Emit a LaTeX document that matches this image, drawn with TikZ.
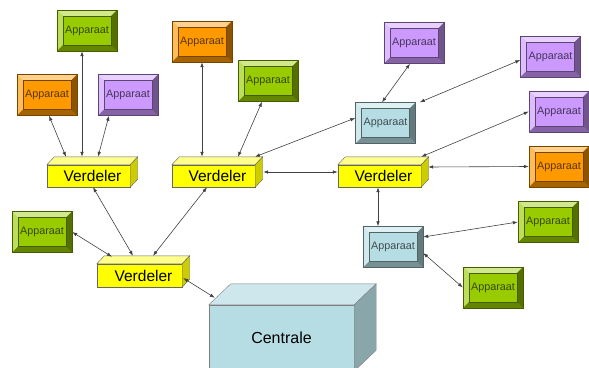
\documentclass[tikz,border=0pt]{standalone}
\usepackage{fontspec}
\setmainfont{Liberation Sans}
\usetikzlibrary{calc,arrows.meta}
\definecolor{grn}{RGB}{153,204,0}
\definecolor{org}{RGB}{255,153,0}
\definecolor{prp}{RGB}{204,153,255}
\definecolor{cyn}{RGB}{183,221,228}
\definecolor{ylw}{RGB}{255,255,0}
\tikzset{
	apparaat/.style={draw=#1!45!black,fill=#1,minimum width=60pt,minimum height=41pt,inner sep=0pt,
		text=#1!35!black,font=\fontsize{10.8}{12}\selectfont,
		path picture={
			\path(path picture bounding box.north west)coordinate(nw)(path picture bounding box.north east)coordinate(ne)
				(path picture bounding box.south west)coordinate(sw)(path picture bounding box.south east)coordinate(se);
			\fill[#1!45!white](nw)--(ne)--($(ne)+(-6pt,-6pt)$)--($(nw)+(6pt,-6pt)$)--cycle;
			\fill[#1!65!white](nw)--(sw)--($(sw)+(6pt,6pt)$)--($(nw)+(6pt,-6pt)$)--cycle;
			\fill[#1!65!black](sw)--(se)--($(se)+(-6pt,6pt)$)--($(sw)+(6pt,6pt)$)--cycle;
			\fill[#1!55!black](ne)--(se)--($(se)+(-6pt,6pt)$)--($(ne)+(-6pt,-6pt)$)--cycle;
			\draw[#1!45!black,line width=.7pt]($(nw)+(6pt,-6pt)$)rectangle($(se)+(-6pt,6pt)$);
		}},
	verdeler/.style={draw=black!60,fill=ylw,minimum width=83pt,minimum height=22pt,inner sep=0pt,
		font=\fontsize{15.5}{17}\selectfont,execute at begin node=\hspace*{8pt}},
	verbinding/.style={draw=black!75,line width=.6pt,{Latex[length=5pt,width=3.5pt]}-{Latex[length=5pt,width=3.5pt]}},
}
\begin{document}
\begin{tikzpicture}[x=1pt,y=-1pt]
	\useasboundingbox(0,0)rectangle(589,367);
	\clip(0,0)rectangle(589,367);
	% apparaten
	\node[apparaat=grn](a1)at(87,30.5){Apparaat};
	\node[apparaat=org](a2)at(47,95){Apparaat};
	\node[apparaat=prp](a3)at(128,95){Apparaat};
	\node[apparaat=org](a4)at(202,41.5){Apparaat};
	\node[apparaat=grn](a5)at(268,81){Apparaat};
	\node[apparaat=cyn](a6)at(385.5,123){Apparaat};
	\node[apparaat=prp](a7)at(414,43){Apparaat};
	\node[apparaat=prp](a8)at(550.5,56.5){Apparaat};
	\node[apparaat=prp](a9)at(559,111.5){Apparaat};
	\node[apparaat=org](a10)at(559,166.5){Apparaat};
	\node[apparaat=grn](a11)at(548,222){Apparaat};
	\node[apparaat=cyn](a12)at(393,247){Apparaat};
	\node[apparaat=grn](a13)at(493,287.5){Apparaat};
	\node[apparaat=grn](a14)at(42,232){Apparaat};
	% verdelers
	\node[verdeler](v1)at(88.5,176){Verdeler};
	\node[verdeler](v2)at(213.5,176){Verdeler};
	\node[verdeler](v3)at(379.5,176){Verdeler};
	\node[verdeler,minimum width=85pt,minimum height=23pt](v4)at(139.5,275.5){Verdeler};
	\foreach \v in {v1,v2,v3,v4}{
		\filldraw[draw=black!60,fill=ylw!45!white](\v.north west)--++(7.5pt,8pt)--($(\v.north east)+(7.5pt,8pt)$)--(\v.north east)--cycle;
		\filldraw[draw=black!60,fill=ylw!80!black](\v.north east)--++(7.5pt,8pt)--($(\v.south east)+(7.5pt,8pt)$)--(\v.south east)--cycle;
	}
	% centrale
	\node[draw=black!50,fill=cyn,minimum width=145pt,minimum height=66pt,font=\fontsize{16}{18}\selectfont](c)at(281.5,338){Centrale};
	\filldraw[draw=black!50,fill=cyn!70!white](c.north west)--++(22pt,21pt)--($(c.north east)+(22pt,21pt)$)--(c.north east)--cycle;
	\filldraw[draw=black!50,fill=cyn!75!black](c.north east)--++(22pt,21pt)--($(c.south east)+(22pt,21pt)$)--(c.south east)--cycle;
	% verbindingen
	\draw[verbinding]([xshift=-5pt]a1.south)--([xshift=-6.5pt,yshift=8pt]v1.north);
	\draw[verbinding]([xshift=2pt]a2.south)--([xshift=-22.5pt,yshift=8pt]v1.north);
	\draw[verbinding]([xshift=-19pt]a3.south)--([xshift=9.5pt,yshift=8pt]v1.north);
	\draw[verbinding](a4.south)--([xshift=-11.5pt,yshift=8pt]v2.north);
	\draw[verbinding]([xshift=-6pt]a5.south)--([xshift=24.5pt,yshift=8pt]v2.north);
	\draw[verbinding]([xshift=41.5pt,yshift=8pt]v2.north)--([yshift=5pt]a6.west);
	\draw[verbinding]([xshift=8pt,yshift=4pt]v2.east)--([yshift=4pt]v3.west);
	\draw[verbinding]([xshift=-3.5pt]a6.north)--([xshift=-4pt]a7.south);
	\draw[verbinding]([xshift=4pt]a6.north east)--([yshift=-3.5pt]a8.west);
	\draw[verbinding]([yshift=8pt]v3.north east)--(a9.west);
	\draw[verbinding]([xshift=7pt,yshift=9pt]v3.east)--(a10.west);
	\draw[verbinding]([xshift=-1.5pt]v3.south)--([xshift=-15pt]a12.north);
	\draw[verbinding]([yshift=10pt]a12.east)--(a11.west);
	\draw[verbinding]([yshift=-6pt]a12.east)--(a13.west);
	\draw[verbinding]([xshift=4.5pt]v1.south)--([xshift=-6.5pt,yshift=8pt]v4.north);
	\draw[verbinding]([xshift=-6.5pt]v2.south)--([xshift=13.5pt,yshift=8pt]v4.north);
	\draw[verbinding](a14.east)--([xshift=-27.5pt,yshift=7pt]v4.north);
	\draw[verbinding]([xshift=1pt,yshift=-2.5pt]v4.east)--([xshift=6pt,yshift=7pt]c.north west);
\end{tikzpicture}
\end{document}
